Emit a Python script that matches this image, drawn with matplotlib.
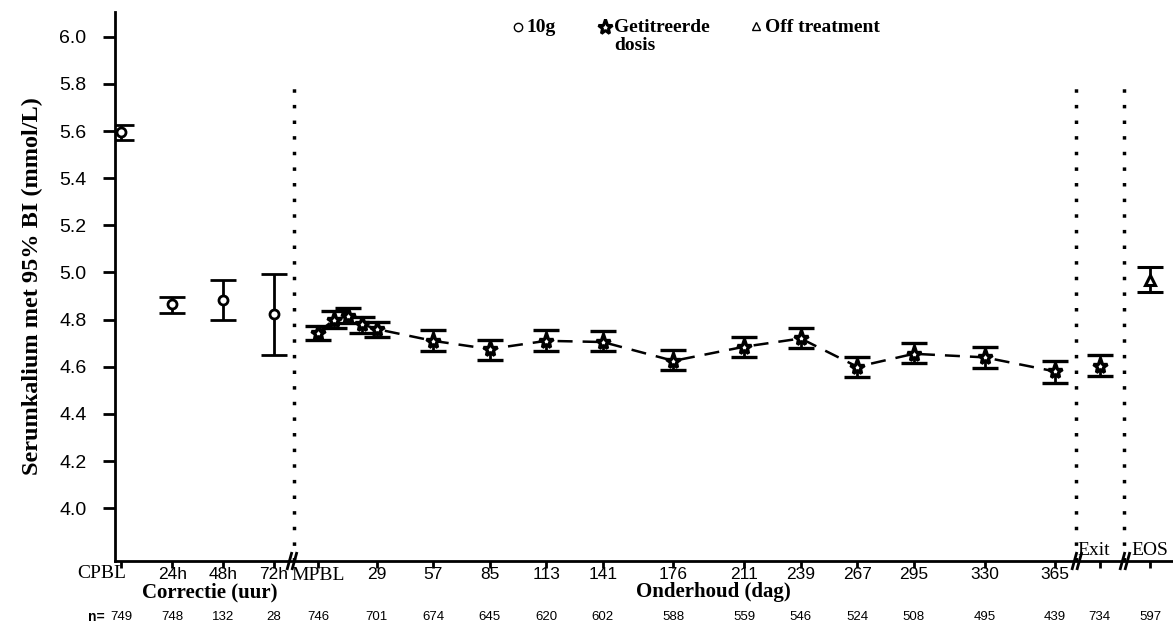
import numpy as np
import matplotlib
matplotlib.use("Agg")
import matplotlib.pyplot as plt

# correction phase (hours)
corr_labels = ['CPBL', '24h', '48h', '72h']
corr_hours = [0, 24, 48, 72]
corr_mean = [5.594, 4.865, 4.882, 4.822]
corr_lo = [5.562, 4.830, 4.800, 4.652]
corr_hi = [5.624, 4.898, 4.970, 4.995]

# maintenance phase (days)
maint_days = [0, 8, 15, 22, 29, 57, 85, 113, 141, 176, 211, 239, 267, 295, 330, 365]
maint_mean = [4.745, 4.800, 4.815, 4.780, 4.760, 4.710, 4.675, 4.710, 4.705, 4.625,
              4.685, 4.720, 4.600, 4.655, 4.640, 4.580]
maint_lo = [4.715, 4.765, 4.785, 4.745, 4.725, 4.665, 4.630, 4.665, 4.665, 4.585,
            4.640, 4.680, 4.555, 4.615, 4.595, 4.530]
maint_hi = [4.775, 4.835, 4.850, 4.810, 4.790, 4.755, 4.715, 4.755, 4.750, 4.670,
            4.725, 4.765, 4.640, 4.700, 4.685, 4.625]
maint_ticks = [0, 29, 57, 85, 113, 141, 176, 211, 239, 267, 295, 330, 365]

# exit (titrated dose) and end of study (off treatment)
exit_mean, exit_lo, exit_hi = 4.605, 4.560, 4.650
eos_mean, eos_lo, eos_hi = 4.970, 4.918, 5.024

n_values = [749, 748, 132, 28, 746, 701, 674, 645, 620, 602, 588, 559, 546, 524,
            508, 495, 439, 734, 597]

# layout: one shared x axis in "day" units
def corr_x(h):
    return -97.3 + h * 25.15 / 24

x_exit, x_eos = 387, 412
breaks = [-12.9, 375.7, 399.5]
vlines = [-11.9, 375.2, 399.0]

SERIF = 'Liberation Serif'
SANS = 'Liberation Sans'

fig = plt.figure(figsize=(11.73, 6.33), dpi=100)
ax = fig.add_axes([115 / 1173, 1 - 561 / 633, 1 - 115 / 1173, (561 - 12) / 633])
ax.set_xlim(-100.5, 423.3)
ax.set_ylim(3.776, 6.105)

for s in ['top', 'right']:
    ax.spines[s].set_visible(False)
for s in ['left', 'bottom']:
    ax.spines[s].set_linewidth(2)

# error bars
cx = [corr_x(h) for h in corr_hours]
cm = np.array(corr_mean)
ax.errorbar(cx, cm, yerr=[cm - np.array(corr_lo), np.array(corr_hi) - cm], fmt='o',
            mfc='white', mec='black', mew=2, ms=6.5, ecolor='black', elinewidth=2,
            capsize=9.5, capthick=2, zorder=4)

mm = np.array(maint_mean)
ax.plot(maint_days, mm, color='black', lw=1.8, dashes=(6, 4), zorder=3)
ax.errorbar(maint_days, mm, yerr=[mm - np.array(maint_lo), np.array(maint_hi) - mm],
            fmt='*', mfc='white', mec='black', mew=2.4, ms=11, ecolor='black',
            elinewidth=2, capsize=9.5, capthick=3, zorder=4)

ax.errorbar([x_exit], [exit_mean], yerr=[[exit_mean - exit_lo], [exit_hi - exit_mean]],
            fmt='*', mfc='white', mec='black', mew=2.4, ms=11, ecolor='black',
            elinewidth=2, capsize=9.5, capthick=3, zorder=4)
ax.errorbar([x_eos], [eos_mean], yerr=[[eos_mean - eos_lo], [eos_hi - eos_mean]],
            fmt='^', mfc='white', mec='black', mew=2.2, ms=7.5, ecolor='black',
            elinewidth=2, capsize=9.5, capthick=3, zorder=4)

# dotted separators
for xv in vlines:
    ax.plot([xv, xv], [3.776, 5.79], color='black', lw=2.5, ls=(0, (1, 3.5)), zorder=2)

# axis break marks
ppx, ppy = 2.02, 235.7
for xb in breaks:
    for dx in (-2.5, 2.5):
        x0 = xb + dx / ppx
        ax.plot([x0 - 2.5 / ppx, x0 + 2.5 / ppx], [3.776 - 9 / ppy, 3.776 + 9 / ppy],
                color='black', lw=2, clip_on=False, zorder=5, solid_capstyle='butt')

# ticks
ax.set_yticks(np.arange(4.0, 6.01, 0.2))
ax.set_yticklabels(['%.1f' % v for v in np.arange(4.0, 6.01, 0.2)],
                   fontsize=14, family=SANS)
ax.tick_params(axis='y', length=8.6, width=2, direction='out', pad=12)

xt = cx + maint_ticks + [x_exit, x_eos]
xl = [''] + corr_labels[1:] + ['MPBL'] + [str(d) for d in maint_ticks[1:]] + ['', '']
ax.set_xticks(xt)
ax.set_xticklabels(xl, fontsize=12.5, family=SANS)
for lab in ax.get_xticklabels():
    if lab.get_text() == 'MPBL':
        lab.set_family(SERIF)
        lab.set_fontsize(14)
ax.tick_params(axis='x', length=5, width=2, direction='out', pad=-0.5)

# CPBL label sits left of its tick in the original
fig.text(102 / 1173, 1 - 574 / 633, corr_labels[0], ha='center', va='center',
         fontsize=14, family=SERIF)

ax.text(x_exit - 3, 3.785, 'Exit', ha='center', va='bottom', fontsize=14, family=SERIF)
ax.text(x_eos, 3.785, 'EOS', ha='center', va='bottom', fontsize=14, family=SERIF)

ax.set_ylabel('Serumkalium met 95% BI (mmol/L)', fontsize=17.5, family=SERIF,
              fontweight='bold')
ax.yaxis.set_label_coords(-0.068, 0.5)

fig.text(210 / 1173, 1 - 592 / 633, 'Correctie (uur)', ha='center', va='center',
         fontsize=15, family=SERIF, fontweight='bold')
fig.text(713 / 1173, 1 - 592 / 633, 'Onderhoud (dag)', ha='center', va='center',
         fontsize=15, family=SERIF, fontweight='bold')

# n row
fig.text(96 / 1173, 1 - 617 / 633, 'n=', ha='center', va='center', fontsize=10,
         family=SANS, fontweight='bold')
trans = matplotlib.transforms.blended_transform_factory(ax.transData, fig.transFigure)
for xv, n in zip(xt, n_values):
    ax.text(xv, 1 - 617 / 633, str(n), transform=trans, ha='center', va='center',
            fontsize=9.5, family=SANS)

# legend
ly = 1 - 27 / 633
ax.plot([518 / 1173], [ly], marker='o', ms=6, mfc='white', mec='black', mew=1,
        transform=fig.transFigure, clip_on=False)
fig.text(526 / 1173, ly, '10g', ha='left', va='center', fontsize=14, family=SERIF,
         fontweight='bold')
ax.plot([605 / 1173], [ly], marker='*', ms=11, mfc='white', mec='black', mew=2.2,
        transform=fig.transFigure, clip_on=False)
fig.text(614 / 1173, ly, 'Getitreerde', ha='left', va='center', fontsize=14,
         family=SERIF, fontweight='bold')
fig.text(614 / 1173, 1 - 45 / 633, 'dosis', ha='left', va='center', fontsize=14,
         family=SERIF, fontweight='bold')
ax.plot([756 / 1173], [ly + 0.002], marker='^', ms=6, mfc='white', mec='black', mew=1,
        transform=fig.transFigure, clip_on=False)
fig.text(765 / 1173, ly, 'Off treatment', ha='left', va='center', fontsize=14,
         family=SERIF, fontweight='bold')

fig.savefig('out.png', dpi=100)
